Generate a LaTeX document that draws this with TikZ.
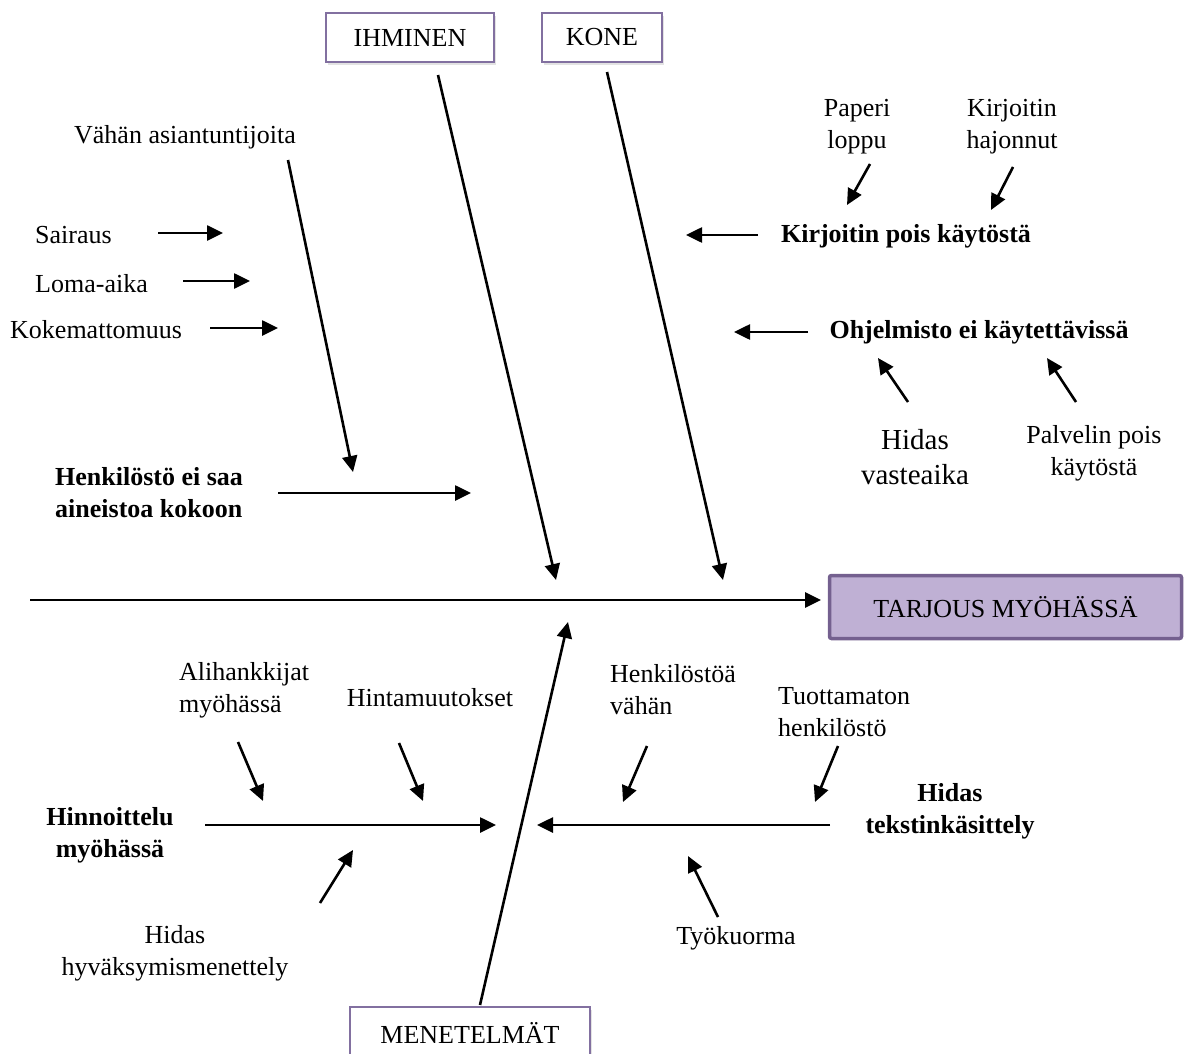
\documentclass[tikz,border=0pt]{standalone}
\usepackage{fontspec}
\setmainfont{Liberation Serif}
\usetikzlibrary{arrows.meta,shadows}
\definecolor{boxline}{HTML}{8270A0}
\definecolor{mainline}{HTML}{74608F}
\definecolor{mainfill}{HTML}{BFB0D4}
\begin{document}
\begin{tikzpicture}[x=1pt,y=-1pt,
  txt/.style={inner sep=0pt, font=\fontsize{26}{32}\selectfont},
  btxt/.style={inner sep=0pt, font=\fontsize{26}{32}\selectfont\bfseries},
  bigtxt/.style={inner sep=0pt, font=\fontsize{29}{35}\selectfont},
  arr/.style={line width=2.6pt, -{Triangle[length=16pt,width=15pt]}},
  catbox/.style={draw=boxline, line width=1.8pt, fill=white, inner sep=0pt,
    drop shadow={opacity=0.22, shadow xshift=2pt, shadow yshift=-3pt},
    font=\fontsize{26}{32}\selectfont},
  effbox/.style={draw=mainline, line width=3.5pt, fill=mainfill, inner sep=0pt,
    rounded corners=2pt, font=\fontsize{26}{32}\selectfont}]
\useasboundingbox (0,0) rectangle (1191,1054);

% category boxes
\node[catbox, minimum width=168pt, minimum height=49pt] (ihm) at (410,37.5) {IHMINEN};
\node[catbox, minimum width=120pt, minimum height=49pt] (kone) at (602,37.5) {KONE};
\node[catbox, minimum width=240pt, minimum height=52pt] (men) at (470,1033) {MENETELMÄT};
\node[effbox, minimum width=352pt, minimum height=63pt] (tarjous) at (1005.5,607) {TARJOUS MYÖHÄSSÄ};

% spine and main bones
\coordinate (tail) at (30,600);
\coordinate (tip) at (821,600);
\draw[line width=2.7pt, -{Triangle[length=16pt,width=15pt]}] (tail) -- (tip);
\coordinate (ihmA) at (438,75);   \coordinate (ihmB) at (556,580);
\coordinate (koneA) at (607,72);  \coordinate (koneB) at (723,580);
\coordinate (menA) at (480,1005); \coordinate (menB) at (568,622);
\draw[arr] (ihmA) -- (ihmB);
\draw[arr] (koneA) -- (koneB);
\draw[arr] (menA) -- (menB);

% IHMINEN side
\node[txt] (vahan) at (185,137) {Vähän asiantuntijoita};
\node[txt, anchor=west] (sairaus) at (35,235) {Sairaus};
\node[txt, anchor=west] (loma) at (35,284) {Loma-aika};
\node[txt, anchor=west] (koke) at (10,330) {Kokemattomuus};
\node[btxt, align=left, anchor=west] (henk) at (55,493) {Henkilöstö ei saa\\aineistoa kokoon};
\coordinate (vahanA) at (288,160); \coordinate (vahanB) at (353,472);
\coordinate (sairA) at (158,233);  \coordinate (sairB) at (223,233);
\coordinate (lomaA) at (183,281);  \coordinate (lomaB) at (250,281);
\coordinate (kokeA) at (210,328);  \coordinate (kokeB) at (278,328);
\coordinate (henkA) at (278,493);  \coordinate (henkB) at (471,493);
\draw[arr] (vahanA) -- (vahanB);
\draw[arr] (sairA) -- (sairB);
\draw[arr] (lomaA) -- (lomaB);
\draw[arr] (kokeA) -- (kokeB);
\draw[arr] (henkA) -- (henkB);

% KONE side
\node[txt, align=center] (paperi) at (857,127) {Paperi\\loppu};
\node[txt, align=center] (kirj) at (1012,127) {Kirjoitin\\hajonnut};
\node[btxt] (kirjpois) at (906,236) {Kirjoitin pois käytöstä};
\node[btxt] (ohj) at (979,332) {Ohjelmisto ei käytettävissä};
\node[bigtxt, align=center] (hidasv) at (915,457) {Hidas\\vasteaika};
\node[txt, align=center] (palv) at (1094,453) {Palvelin pois\\käytöstä};
\coordinate (papA) at (870,164);  \coordinate (papB) at (847,205);
\coordinate (kirA) at (1013,167); \coordinate (kirB) at (991,210);
\coordinate (kpA) at (758,235);   \coordinate (kpB) at (686,235);
\coordinate (ohA) at (808,332);   \coordinate (ohB) at (734,332);
\coordinate (hvA) at (908,402);   \coordinate (hvB) at (878,358);
\coordinate (pvA) at (1076,402);  \coordinate (pvB) at (1047,358);
\draw[arr] (papA) -- (papB);
\draw[arr] (kirA) -- (kirB);
\draw[arr] (kpA) -- (kpB);
\draw[arr] (ohA) -- (ohB);
\draw[arr] (hvA) -- (hvB);
\draw[arr] (pvA) -- (pvB);

% MENETELMÄT side, left branch
\node[txt, align=left, anchor=west] (alih) at (179,690) {Alihankkijat\\myöhässä};
\node[txt] (hinta) at (430,698) {Hintamuutokset};
\node[btxt, align=center] (hinn) at (110,835) {Hinnoittelu\\myöhässä};
\node[txt, align=center] (hyv) at (175,953) {Hidas\\hyväksymismenettely};
\coordinate (alA) at (238,742);  \coordinate (alB) at (263,801);
\coordinate (hmA) at (399,743);  \coordinate (hmB) at (423,801);
\coordinate (hiA) at (205,825);  \coordinate (hiB) at (496,825);
\coordinate (hyA) at (320,903);  \coordinate (hyB) at (353,850);
\draw[arr] (alA) -- (alB);
\draw[arr] (hmA) -- (hmB);
\draw[arr] (hiA) -- (hiB);
\draw[arr] (hyA) -- (hyB);

% MENETELMÄT side, right branch
\node[txt, align=left, anchor=west] (henkv) at (610,690) {Henkilöstöä\\vähän};
\node[txt, align=left, anchor=west] (tuot) at (778,712) {Tuottamaton\\henkilöstö};
\node[btxt, align=center] (hidast) at (950,811) {Hidas\\tekstinkäsittely};
\node[txt] (tyo) at (736,938) {Työkuorma};
\coordinate (hvvA) at (647,746); \coordinate (hvvB) at (623,802);
\coordinate (tuA) at (838,746);  \coordinate (tuB) at (815,802);
\coordinate (htA) at (830,825);  \coordinate (htB) at (537,825);
\coordinate (tyA) at (718,917);  \coordinate (tyB) at (688,856);
\draw[arr] (hvvA) -- (hvvB);
\draw[arr] (tuA) -- (tuB);
\draw[arr] (htA) -- (htB);
\draw[arr] (tyA) -- (tyB);
\end{tikzpicture}
\end{document}
